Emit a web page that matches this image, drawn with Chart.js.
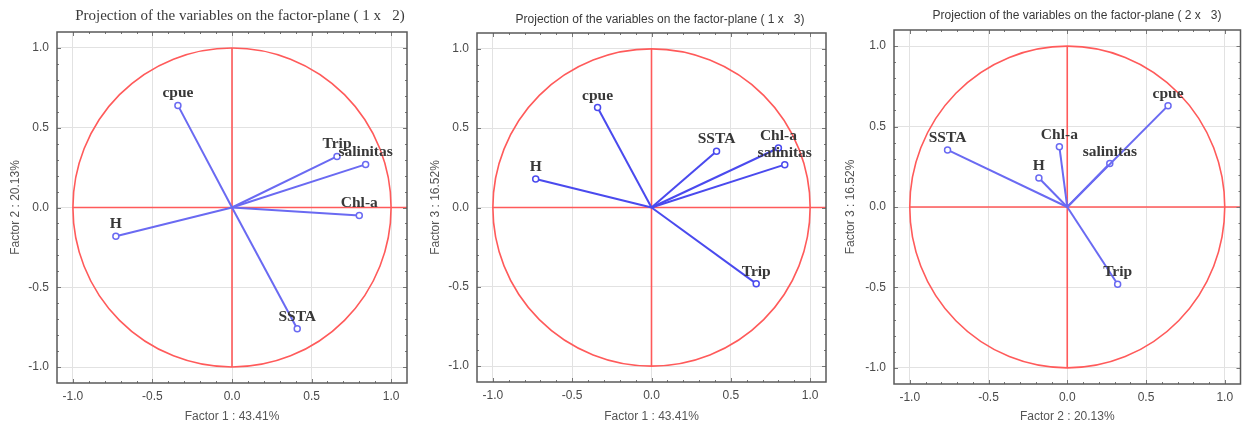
<!DOCTYPE html>
<html>
<head>
<meta charset="utf-8">
<script src="https://cdn.jsdelivr.net/npm/chart.js@4.4.1/dist/chart.umd.min.js"></script>
<style>
  html, body { margin:0; padding:0; background:#fff; }
  body { width:1246px; height:425px; position:relative; overflow:hidden; }
  .pane { position:absolute; top:0; height:425px; }
  .pane canvas { display:block; }
</style>
</head>
<body>
<div class="pane" id="p1" style="left:0px;width:415px;"><canvas id="c1"></canvas></div>
<div class="pane" id="p2" style="left:420px;width:415px;"><canvas id="c2"></canvas></div>
<div class="pane" id="p3" style="left:835px;width:411px;"><canvas id="c3"></canvas></div>
<script>
// ---- data ----
const variables = ['cpue', 'Trip', 'salinitas', 'Chl-a', 'H', 'SSTA'];
const factor1 = [-0.34, 0.66, 0.84, 0.80, -0.73, 0.41];
const factor2 = [0.64, 0.32, 0.27, -0.05, -0.18, -0.76];
const factor3 = [0.63, -0.48, 0.27, 0.375, 0.18, 0.355];
const tickValues = [-1.0, -0.5, 0.0, 0.5, 1.0];
const factorNames = ['Factor 1 : 43.41%', 'Factor 2 : 20.13%', 'Factor 3 : 16.52%'];
const panelTitles = [
  'Projection of the variables on the factor-plane ( 1 x   2)',
  'Projection of the variables on the factor-plane ( 1 x   3)',
  'Projection of the variables on the factor-plane ( 2 x   3)'
];

const RED = '#ff5a5a';

const decor = {
  id: 'decor',
  beforeDatasetsDraw(chart, args, o) {
    const {ctx, chartArea: a, scales: {x, y}} = chart;
    const cx = x.getPixelForValue(0), cy = y.getPixelForValue(0);
    const rx = x.getPixelForValue(1) - cx, ry = cy - y.getPixelForValue(1);
    ctx.save();
    ctx.strokeStyle = RED;
    ctx.lineWidth = 1.6;
    ctx.beginPath();
    ctx.ellipse(cx, cy, rx, ry, 0, 0, Math.PI * 2);
    ctx.stroke();
    ctx.beginPath();
    ctx.moveTo(x.getPixelForValue(-1), cy);
    ctx.lineTo(a.right, cy);
    ctx.moveTo(cx, y.getPixelForValue(1));
    ctx.lineTo(cx, y.getPixelForValue(-1));
    ctx.stroke();
    ctx.restore();
  },
  afterDatasetsDraw(chart, args, o) {
    const {ctx} = chart;
    ctx.save();
    ctx.font = 'bold 15.5px "Liberation Serif", "Times New Roman", serif';
    ctx.fillStyle = '#383838';
    ctx.textAlign = 'center';
    ctx.textBaseline = 'alphabetic';
    chart.data.datasets.forEach((ds, i) => {
      const pt = chart.getDatasetMeta(i).data[1];
      ctx.fillText(ds.label, pt.x, pt.y - 8);
    });
    ctx.restore();
  },
  afterDraw(chart, args, o) {
    const {ctx, chartArea: a, scales: {x, y}} = chart;
    ctx.save();
    // small tick marks along the frame
    ctx.strokeStyle = '#777';
    ctx.lineWidth = 1;
    for (let k = -10; k <= 10; k++) {
      const v = k / 10;
      const len = (k % 5 === 0) ? 4 : 2;
      const px = Math.round(x.getPixelForValue(v)) + 0.5;
      const py = Math.round(y.getPixelForValue(v)) + 0.5;
      ctx.beginPath();
      ctx.moveTo(px, a.top); ctx.lineTo(px, a.top + len);
      ctx.moveTo(px, a.bottom); ctx.lineTo(px, a.bottom - len);
      ctx.moveTo(a.left, py); ctx.lineTo(a.left + len, py);
      ctx.moveTo(a.right, py); ctx.lineTo(a.right - len, py);
      ctx.stroke();
    }
    // frame
    ctx.strokeStyle = '#5a5a5a';
    ctx.lineWidth = 1.5;
    ctx.strokeRect(a.left, a.top, a.right - a.left, a.bottom - a.top);
    // title
    ctx.font = o.titleFont;
    ctx.fillStyle = '#3a3a3a';
    ctx.textAlign = 'center';
    ctx.textBaseline = 'middle';
    ctx.fillText(o.title, o.titleX, o.titleY);
    ctx.restore();
  }
};

function makeChart(id, xs, ys, xName, yName, lineColor, layout) {
  const datasets = variables.map((name, i) => ({
    label: name,
    data: [{x: 0, y: 0}, {x: xs[i], y: ys[i]}],
    showLine: true,
    borderColor: lineColor,
    borderWidth: 2,
    pointRadius: [0, 3],
    pointBackgroundColor: '#ffffff',
    pointBorderColor: lineColor,
    pointBorderWidth: 1.5
  }));
  const tickFont = {family: '"Liberation Sans", Arial, sans-serif', size: 12};
  const axis = (title, fitSize, horizontal) => ({
    type: 'linear',
    min: -1.1,
    max: 1.1,
    afterBuildTicks(s) { s.ticks = tickValues.map(v => ({value: v})); },
    afterFit(s) { if (horizontal) s.height = fitSize; else s.width = fitSize; },
    grid: {color: '#e2e2e2', lineWidth: 1, drawTicks: false},
    border: {display: false},
    ticks: {
      color: '#4a4a4a',
      font: tickFont,
      padding: horizontal ? 6 : 8,
      maxRotation: 0,
      callback: v => Number(v).toFixed(1)
    },
    title: {
      display: true,
      text: title,
      color: '#555',
      font: tickFont,
      padding: horizontal ? {top: 0, bottom: 1} : {top: 8, bottom: 0}
    }
  });
  return new Chart(document.getElementById(id), {
    type: 'scatter',
    data: {datasets},
    options: {
      responsive: true,
      maintainAspectRatio: false,
      animation: false,
      layout: {padding: {top: layout.top, right: layout.right, left: 0, bottom: 0}},
      scales: {
        x: axis(xName, layout.xh, true),
        y: axis(yName, layout.yw, false)
      },
      plugins: {
        legend: {display: false},
        tooltip: {enabled: false},
        decor: {
          title: layout.title,
          titleFont: layout.titleFont,
          titleX: layout.titleX,
          titleY: layout.titleY
        }
      }
    },
    plugins: [decor]
  });
}

makeChart('c1', factor1, factor2, factorNames[0], factorNames[1], '#6a6af2',
  {top: 32, right: 8, xh: 42, yw: 57, title: panelTitles[0],
   titleFont: '15px "Liberation Serif", "Times New Roman", serif', titleX: 240, titleY: 16});
makeChart('c2', factor1, factor3, factorNames[0], factorNames[2], '#4a4aee',
  {top: 33, right: 9, xh: 43, yw: 57, title: panelTitles[1],
   titleFont: '12px "Liberation Sans", Arial, sans-serif', titleX: 240, titleY: 20});
makeChart('c3', factor2, factor3, factorNames[1], factorNames[2], '#6a6af2',
  {top: 30, right: 1, xh: 41, yw: 59, title: panelTitles[2],
   titleFont: '12px "Liberation Sans", Arial, sans-serif', titleX: 242, titleY: 16});
</script>
</body>
</html>
